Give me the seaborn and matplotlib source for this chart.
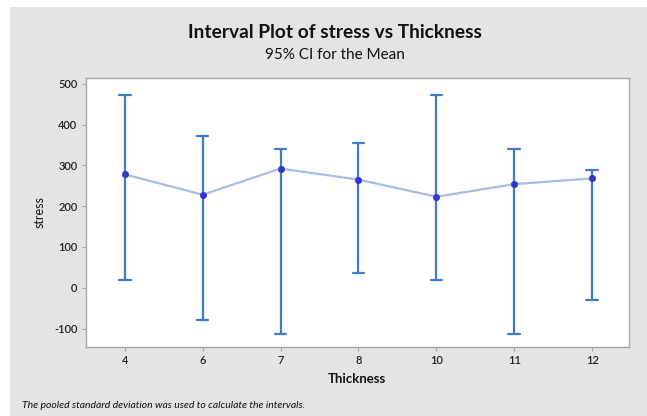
import numpy as np
import pandas as pd
import matplotlib
matplotlib.use("Agg")
import matplotlib.pyplot as plt
import seaborn as sns

thickness = ["4", "6", "7", "8", "10", "11", "12"]
mean_stress = [278, 228, 292, 265, 223, 254, 268]
ci_lower = [20, -79, -113, 36, 20, -113, -30]
ci_upper = [473, 371, 339, 355, 473, 339, 288]
y_ticks = [-100, 0, 100, 200, 300, 400, 500]

sns.set_theme(style="white")
plt.rcParams["font.family"] = ["Lato", "DejaVu Sans"]

bg = "#e4e4e4"
fig = plt.figure(figsize=(6.47, 4.16), dpi=100, facecolor="white")
# gray panel
fig.patches.append(plt.Rectangle((10 / 647, 0), 1, 1 - 7 / 416, transform=fig.transFigure,
                                 facecolor=bg, edgecolor="none", zorder=-10))
ax = fig.add_axes([0.1325, 0.166, 0.972 - 0.1325, 0.8125 - 0.166])
ax.set_facecolor("white")

long = pd.DataFrame({
    "Thickness": thickness * 3,
    "stress": ci_lower + mean_stress + ci_upper,
})

sns.pointplot(data=long, x="Thickness", y="stress", order=thickness,
              estimator="median", errorbar=lambda v: (v.min(), v.max()),
              capsize=0.15, color="#3d7cc9", linestyle="none", markersize=0,
              err_kws={"linewidth": 1.6}, ax=ax)
sns.lineplot(x=thickness, y=mean_stress, color="#a9bde3", linewidth=1.6, ax=ax,
             zorder=3, sort=False)
sns.scatterplot(x=thickness, y=mean_stress, color="#3434cc", s=22, edgecolor="#3434cc",
                zorder=4, ax=ax)

ax.set_xlim(-0.5, 6.47)
ax.set_ylim(-145, 514)
ax.set_yticks(y_ticks)
ax.set_yticklabels([str(t) for t in y_ticks])

for s in ax.spines.values():
    s.set_color("#a8a8a8")
    s.set_linewidth(1.0)
ax.tick_params(axis="both", which="both", direction="out", length=3, width=0.8,
               color="#a8a8a8", labelsize=8, labelcolor="#222222", pad=3,
               bottom=True, left=True)
for lab in ax.get_xticklabels() + ax.get_yticklabels():
    lab.set_fontweight("semibold")

ax.set_xlabel("Thickness", fontsize=9.5, fontweight="bold", color="#111111", labelpad=5)
ax.set_ylabel("stress", fontsize=9, color="#111111", labelpad=6)

fig.text(0.518, 1 - 33 / 416, "Interval Plot of stress vs Thickness", ha="center", va="center",
         fontsize=13.8, fontweight="bold", color="#111111")
fig.text(0.518, 1 - 55 / 416, "95% CI for the Mean", ha="center", va="center",
         fontsize=11, color="#111111")
fig.text(22 / 647, 1 - 406 / 416, "The pooled standard deviation was used to calculate the intervals.",
         ha="left", va="center", fontsize=7.5, style="italic", color="#111111")

fig.savefig("out.png", dpi=100, facecolor=fig.get_facecolor())
